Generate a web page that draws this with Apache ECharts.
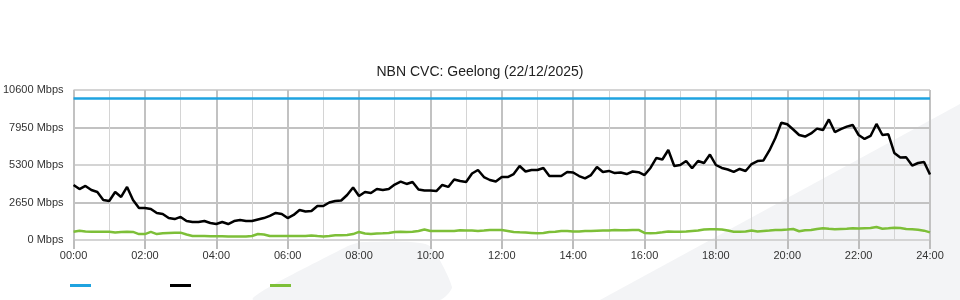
<!DOCTYPE html>
<html>
<head>
<meta charset="utf-8">
<script src="https://cdn.jsdelivr.net/npm/echarts@6/dist/echarts.min.js"></script>
<style>
html,body{margin:0;padding:0;background:#fff;}
#chart{width:960px;height:300px;}
</style>
</head>
<body>
<div id="chart"></div>
<script>
const chartTitle = 'NBN CVC: Geelong (22/12/2025)';
const sampleMinutes = 10;
const xTickLabels = ['00:00','02:00','04:00','06:00','08:00','10:00','12:00','14:00','16:00','18:00','20:00','22:00','24:00'];
const yTickValues = [0, 2650, 5300, 7950, 10600];
const seriesNames = ['Capacity', 'Download', 'Upload'];
const capacityMbps = 10000;
const downloadMbps = [
3890,3600,3820,3530,3390,2830,2760,3390,3040,3750,2830,
2260,2260,2190,1910,1840,1550,1480,1630,1340,1270,
1270,1340,1200,1130,1270,1130,1340,1410,1340,1340,
1450,1550,1700,1910,1840,1550,1770,2120,2010,2050,
2400,2400,2650,2760,2790,3180,3710,3110,3390,3320,
3600,3530,3600,3920,4130,3960,4100,3570,3500,3500,
3460,3890,3750,4280,4170,4100,4700,4950,4450,4240,
4130,4450,4450,4660,5230,4840,4950,4950,5090,4520,
4520,4520,4810,4770,4520,4350,4590,5160,4810,4880,
4730,4770,4660,4840,4790,4590,5090,5800,5690,6360,
5230,5300,5580,5070,5580,5440,6040,5300,5090,4980,
4810,5020,4880,5370,5580,5620,6330,7210,8290,8180,
7810,7420,7310,7530,7870,7770,8520,7630,7840,8010,
8130,7420,7140,7350,8200,7420,7470,6150,5830,5840,
5260,5440,5510,4630
];
const uploadMbps = [
590,660,600,590,590,590,590,530,570,590,570,
420,420,570,420,470,500,520,520,390,280,
280,280,270,260,260,250,250,250,250,280,
420,390,280,280,280,280,280,280,280,320,
280,250,280,330,330,350,420,570,460,420,
460,470,500,570,590,570,590,640,740,640,
640,640,640,640,690,670,670,640,670,710,
710,710,640,570,540,530,500,470,500,570,
590,640,640,600,600,640,640,660,670,670,
710,690,690,710,710,500,470,500,540,600,
590,590,600,640,670,740,760,760,740,670,
590,590,600,670,600,640,670,710,710,740,
780,620,690,710,780,830,790,760,780,800,
830,810,830,850,920,800,830,870,850,780,
760,730,660,540
];

const toPoints = arr => arr.map((v, i) => [i * sampleMinutes / 60, v]);
const lastHour = (downloadMbps.length - 1) * sampleMinutes / 60;

const chart = echarts.init(document.getElementById('chart'), null, {renderer: 'canvas'});
const font = "'Liberation Sans', Arial, sans-serif";
chart.setOption({
  animation: false,
  backgroundColor: '#ffffff',
  title: {
    text: chartTitle,
    left: 'center',
    top: 60,
    textStyle: {fontFamily: font, fontSize: 14, fontWeight: 'normal', color: '#222'}
  },
  graphic: [
    {type: 'polygon', z: -10, silent: true,
     shape: {points: [[253,300],[346,247],[362,242],[428,245],[452,287],[440,300]], smooth: 0.2},
     style: {fill: '#f3f4f6'}},
    {type: 'polygon', z: -10, silent: true,
     shape: {points: [[600,300],[960,104],[960,300]]},
     style: {fill: '#f3f4f6'}}
  ],
  legend: {
    left: 65,
    top: 279,
    icon: 'rect',
    itemWidth: 21,
    itemHeight: 3,
    itemGap: 79,
    formatter: () => '',
    selectedMode: false,
    data: seriesNames
  },
  grid: {left: 70, right: 30, top: 90, bottom: 60, containLabel: false},
  xAxis: {
    type: 'value',
    min: 0,
    max: 24,
    interval: 2,
    axisLine: {show: false},
    axisTick: {show: true, length: 9, lineStyle: {color: '#bdbdbd', width: 2}},
    axisLabel: {
      margin: 10,
      fontFamily: font, fontSize: 11, color: '#333',
      formatter: v => xTickLabels[Math.round(v / 2)]
    },
    splitLine: {show: true, lineStyle: {color: '#c2c2c2', width: 2}},
    minorTick: {show: false, splitNumber: 2},
    minorSplitLine: {show: true, lineStyle: {color: '#d4d4d4', width: 1}}
  },
  yAxis: {
    type: 'value',
    min: yTickValues[0],
    max: yTickValues[yTickValues.length - 1],
    interval: yTickValues[1] - yTickValues[0],
    axisLine: {show: false},
    axisTick: {show: false},
    axisLabel: {
      margin: 10,
      fontFamily: font, fontSize: 11, color: '#333',
      formatter: v => v + ' Mbps'
    },
    splitLine: {show: true, lineStyle: {color: ['#d4d4d4', '#c2c2c2'], width: 2}}
  },
  series: [
    {
      name: seriesNames[0], type: 'line', showSymbol: false, silent: true,
      color: '#1fa3e0',
      lineStyle: {width: 2.5, color: '#1fa3e0'},
      data: [[0, capacityMbps], [lastHour, capacityMbps]]
    },
    {
      name: seriesNames[1], type: 'line', showSymbol: false, silent: true,
      color: '#000000',
      lineStyle: {width: 2.5, color: '#000000'},
      data: toPoints(downloadMbps)
    },
    {
      name: seriesNames[2], type: 'line', showSymbol: false, silent: true,
      color: '#7dbf38',
      lineStyle: {width: 2.5, color: '#7dbf38'},
      data: toPoints(uploadMbps)
    }
  ]
});
</script>
</body>
</html>
